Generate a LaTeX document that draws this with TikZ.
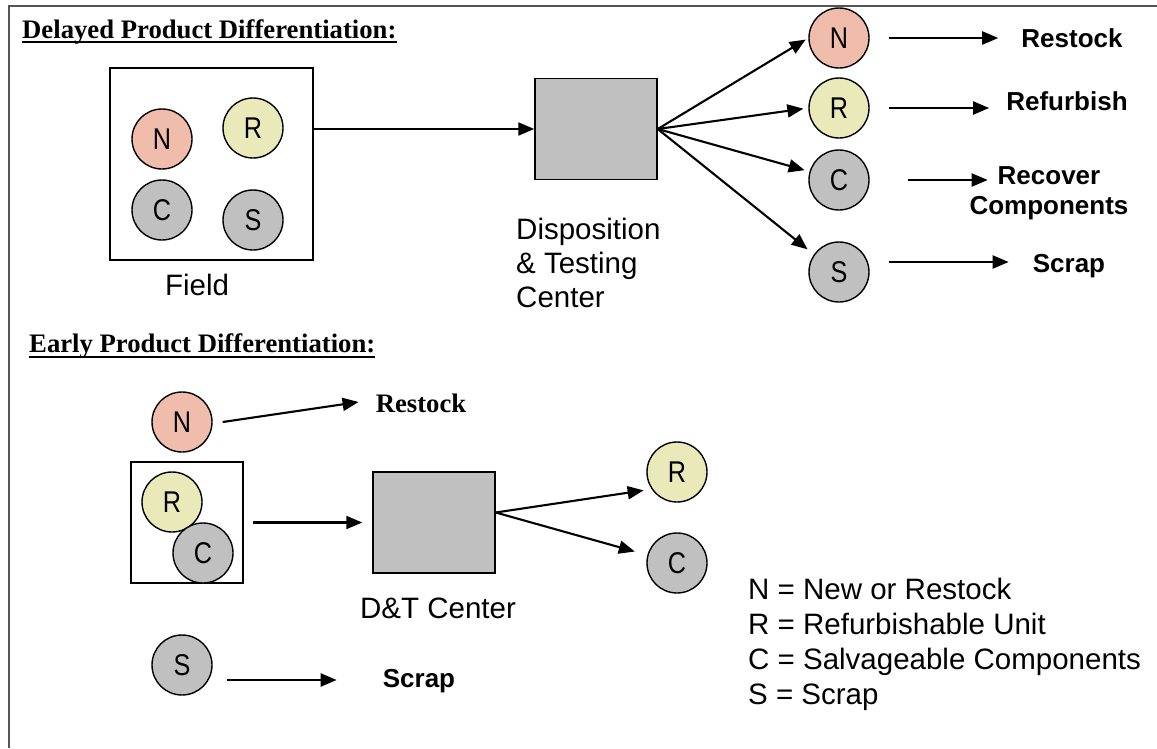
\documentclass[tikz,border=0pt]{standalone}
\usepackage{fontspec}
\setmainfont{Liberation Serif}
\setsansfont{Liberation Sans}
\usetikzlibrary{arrows.meta,calc}
\definecolor{npink}{RGB}{240,188,172}
\definecolor{ryellow}{RGB}{233,233,185}
\definecolor{cgray}{RGB}{192,192,192}
\definecolor{framegray}{RGB}{85,85,85}
% condensed letter inside a unit circle
\newcommand{\unitletter}[1]{\scalebox{0.84}[1]{#1}}
\begin{document}
\begin{tikzpicture}[x=1pt,y=-1pt,
  unit/.style={circle,draw,line width=1.4pt,minimum size=60pt,inner sep=0pt,
    font=\sffamily\fontsize{30}{30}\selectfont},
  nunit/.style={unit,fill=npink},
  runit/.style={unit,fill=ryellow},
  gunit/.style={unit,fill=cgray},
  centre/.style={draw,line width=1.5pt,fill=cgray,inner sep=0pt,
    minimum width=122pt,minimum height=101pt},
  bin/.style={draw,line width=1.5pt,inner sep=0pt},
  flow/.style={line width=2.1pt,-{Triangle[length=16pt,width=13pt]}},
  heading/.style={inner sep=0pt,anchor=base west,
    font=\rmfamily\bfseries\fontsize{26.7}{30}\selectfont},
  plain/.style={inner sep=0pt,font=\sffamily\fontsize{29.5}{34}\selectfont},
  action/.style={inner sep=0pt,font=\sffamily\bfseries\fontsize{26}{30}\selectfont},
]
\useasboundingbox (0,0) rectangle (1157,748);
\fill[white] (0,0) rectangle (1157,748);

% frame (left and top edges only)
\draw[framegray,line width=2pt] (8.5,748) -- (8.5,5.5) -- (1157,5.5);

% ---------------- delayed differentiation ----------------
\node[heading] (t1) at (22,38) {Delayed Product Differentiation:};
\draw[line width=1.8pt] ($(t1.base west)+(0,4)$) -- ($(t1.base east)+(0,4)$);

\node[bin,minimum width=203pt,minimum height=192pt] (field) at (211.5,164) {};
\node[nunit] (fN) at (162,139) {\unitletter{N}};
\node[runit] (fR) at (253,128) {\unitletter{R}};
\node[gunit] (fC) at (162,210) {\unitletter{C}};
\node[gunit] (fS) at (253,220) {\unitletter{S}};
\node[plain,anchor=base] (fieldlbl) at (197,295) {Field};

\node[centre] (sq1) at (596,129) {};
\node[plain,align=left,anchor=north west] (dtc) at (516,218)
  {Disposition\\\& Testing\\Center};

\node[nunit] (N1) at (839,38) {\unitletter{N}};
\node[runit] (R1) at (839,108) {\unitletter{R}};
\node[gunit] (C1) at (839,180) {\unitletter{C}};
\node[gunit] (S1) at (839,272) {\unitletter{S}};

\node[action,anchor=base] (rs1) at (1072,47) {Restock};
\node[action,anchor=base] (rf1) at (1067,110) {Refurbish};
\node[action,align=center,anchor=north] (rc1) at (1049,166.5) {Recover\\Components};
\node[action,anchor=base] (sc1) at (1069,272) {Scrap};

\draw[flow] (field.east |- sq1.west) -- (sq1.west);
\draw[flow,shorten >=3pt] (sq1.east) -- (N1.west);
\draw[flow,shorten >=5pt] (sq1.east) -- (R1.west);
\draw[flow,shorten >=5pt] (sq1.east) -- (C1.164);
\draw[flow,shorten >=8pt] (sq1.east) -- (S1.145);

\draw[flow] ($(N1.east)+(19,0)$) -- ($(rs1.base west)+(-23,-9)$);
\draw[flow] ($(R1.east)+(19,0)$) -- ($(rf1.base west)+(-17,-2)$);
\draw[flow] ($(C1.east)+(38,0)$) -- ($(C1.east)+(118,0)$);
\draw[flow] ($(S1.east)+(19,-10)$) -- ($(sc1.base west)+(-24,-10)$);

% ---------------- early differentiation ----------------
\node[heading] (t2) at (29,352) {Early Product Differentiation:};
\draw[line width=1.8pt] ($(t2.base west)+(0,5)$) -- ($(t2.base east)+(0,5)$);

\node[nunit] (N2) at (182,422) {\unitletter{N}};
\node[heading,anchor=base] (rs2) at (421,412) {Restock};

\node[bin,minimum width=112pt,minimum height=121pt] (box2) at (187,522.5) {};
\node[runit] (R2) at (172,502) {\unitletter{R}};
\node[gunit] (C2) at (203,553) {\unitletter{C}};

\node[centre] (sq2) at (434,522.5) {};
\node[plain,anchor=base] (dt2) at (438,618) {D\&T Center};

\node[runit] (R3) at (677,472) {\unitletter{R}};
\node[gunit] (C3) at (677,563) {\unitletter{C}};

\node[gunit] (S2) at (182,665) {\unitletter{S}};
\node[action,anchor=base] (sc2) at (419,687) {Scrap};

\draw[flow] ($(N2.east)+(10,0)$) -- ($(rs2.base west)+(-17,-10)$);
\draw[flow,shorten <=9pt,shorten >=10pt] (box2.east) -- (sq2.west);
\draw[flow,shorten >=8pt] ($(sq2.east)+(0,-10)$) -- (R3.214);
\draw[flow,shorten >=13pt] ($(sq2.east)+(0,-10)$) -- (C3.165);
\draw[flow] ($(S2.east)+(14.5,15)$) -- ($(sc2.base west)+(-46,-7)$);

% legend
\node[plain,anchor=base west] (k1) at (748,599) {N = New or Restock};
\node[plain,anchor=base west] (k2) at (748,634) {R = Refurbishable Unit};
\node[plain,anchor=base west] (k3) at (748,669) {C = Salvageable Components};
\node[plain,anchor=base west] (k4) at (748,704) {S = Scrap};
\end{tikzpicture}
\end{document}
